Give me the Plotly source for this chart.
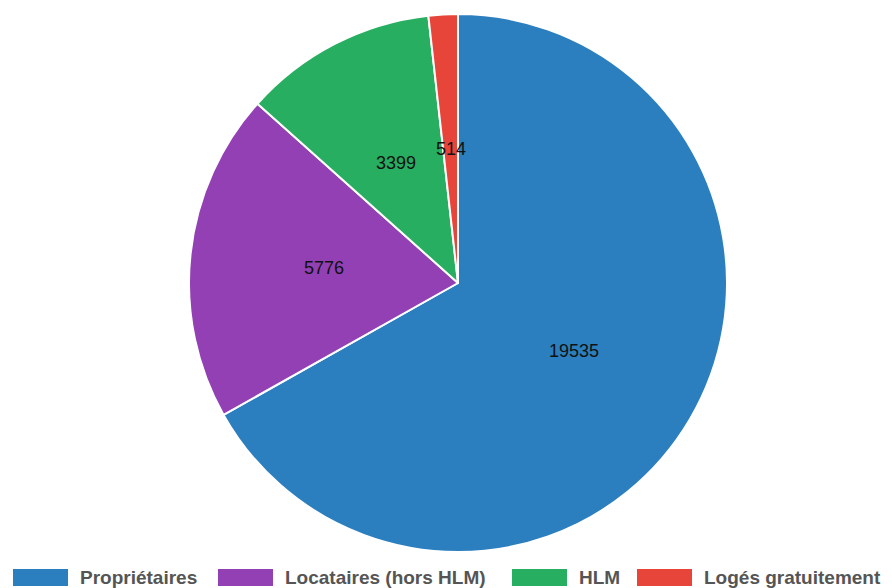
import math
import plotly.graph_objects as go

categories = ["Propriétaires", "Locataires (hors HLM)", "HLM", "Logés gratuitement"]
values = [19535, 5776, 3399, 514]
colors = ["#2b7fbf", "#9340b4", "#27ae60", "#e8453a"]

W, H = 892, 588
CX, CY, R = 458, 283, 269  # pie centre and radius in pixels

fig = go.Figure()
fig.add_trace(go.Pie(
    labels=categories, values=values, sort=False, direction="clockwise", rotation=0,
    marker=dict(colors=colors, line=dict(color="white", width=2)),
    textinfo="none", hoverinfo="label+value", showlegend=False,
    domain=dict(x=[(CX - R) / W, (CX + R) / W], y=[(H - CY - R) / H, (H - CY + R) / H]),
))

annotations = []
total = sum(values)
cum = 0
for v in values:
    mid = (cum + v / 2) / total * 2 * math.pi
    cum += v
    px = CX + (R / 2) * math.sin(mid)
    py = CY - (R / 2) * math.cos(mid)
    annotations.append(dict(x=px / W, y=1 - py / H, xref="paper", yref="paper",
                            xanchor="center", yanchor="middle",
                            text=str(v), showarrow=False,
                            font=dict(family="Liberation Sans, Arial", size=18, color="#111111")))

# legend built from swatches + text
sw_x = [13, 218, 512, 637]
sw_w = 55
shapes = []
for i, (name, c) in enumerate(zip(categories, colors)):
    x0 = sw_x[i]
    shapes.append(dict(type="rect", xref="paper", yref="paper",
                       x0=x0 / W, x1=(x0 + sw_w) / W, y0=1 - 586 / H, y1=1 - 569 / H,
                       fillcolor=c, line=dict(width=0)))
    annotations.append(dict(x=(x0 + sw_w + 10) / W, y=1 - 577.5 / H, xref="paper", yref="paper",
                            xanchor="left", yanchor="middle", text="<b>%s</b>" % name, showarrow=False,
                            font=dict(family="Liberation Sans, Arial", size=19, color="#555555")))

fig.update_layout(
    width=W, height=H, margin=dict(l=0, r=0, t=0, b=0),
    paper_bgcolor="white", plot_bgcolor="white",
    annotations=annotations, shapes=shapes, showlegend=False,
)
fig.write_html("out.html", config={"displayModeBar": False},
               post_script="document.body.style.margin='0px';document.body.style.overflow='hidden';")
